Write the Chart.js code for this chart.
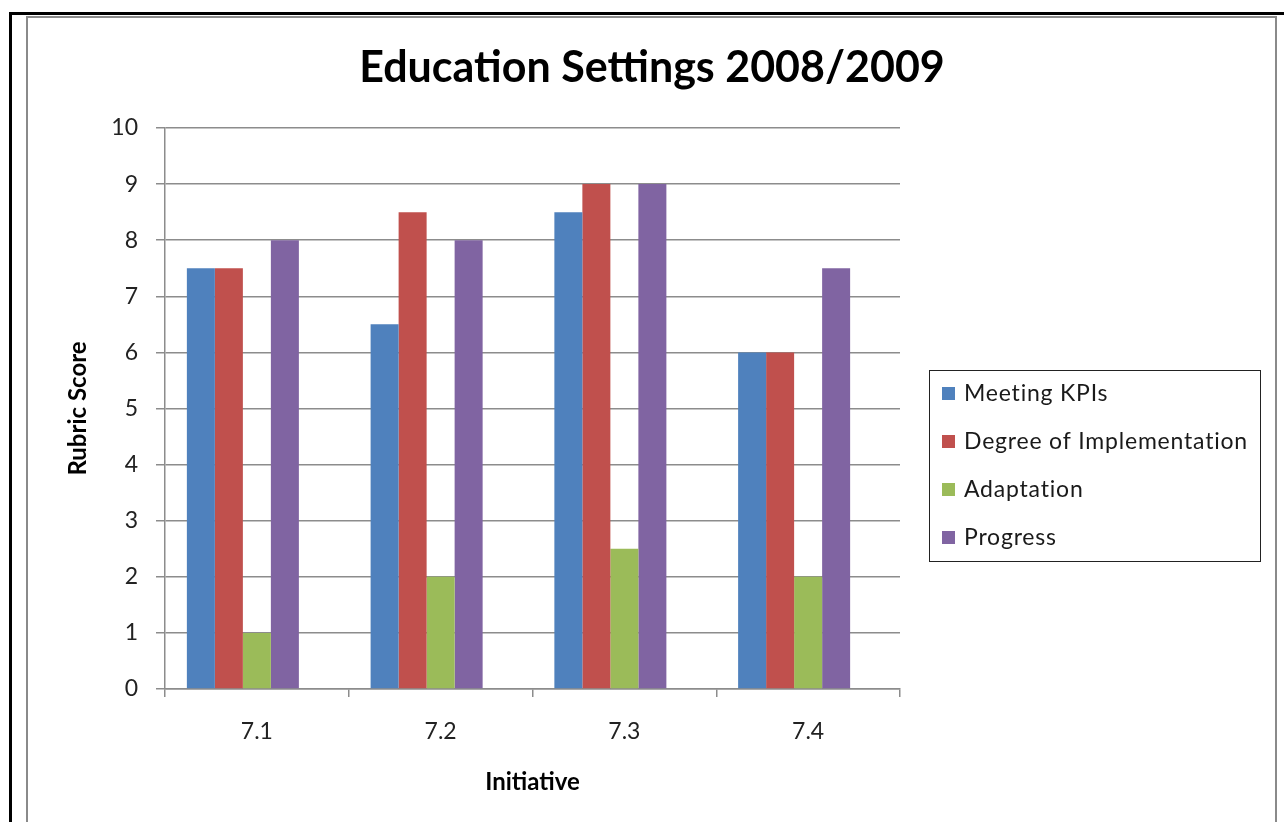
<!DOCTYPE html>
<html>
<head>
<meta charset="utf-8">
<script src="https://cdn.jsdelivr.net/npm/chart.js@4/dist/chart.umd.min.js"></script>
<style>
  html, body { margin: 0; padding: 0; background: #fff; }
  #wrap { width: 1284px; height: 822px; position: relative; }
  canvas { display: block; }
</style>
</head>
<body>
<div id="wrap"><canvas id="chart" width="1284" height="822"></canvas></div>
<script>
// Initiatives along the x axis
const categories = ['7.1', '7.2', '7.3', '7.4'];

// Rubric scores per series
const meetingKPIs = [7.5, 6.5, 8.5, 6];
const degreeOfImplementation = [7.5, 8.5, 9, 6];
const adaptation = [1, 2, 2.5, 2];
const progress = [8, 8, 9, 7.5];
// The workbook carries a fifth, empty series that still takes a bar slot
const emptySeries = [null, null, null, null];

const seriesNames = ['Meeting KPIs', 'Degree of Implementation', 'Adaptation', 'Progress', ''];
const seriesColors = ['#4F81BD', '#C0504D', '#9BBB59', '#8064A2', '#F79646'];
const seriesValues = [meetingKPIs, degreeOfImplementation, adaptation, progress, emptySeries];

// Value axis range
const yMin = 0;
const yMax = 10;
const yStep = 1;

const chartTitle = 'Education Settings 2008/2009';
const FONT = 'Lato, "Open Sans", sans-serif';

// Double frame around the whole figure
const framePlugin = {
  id: 'frame',
  beforeDraw(chart) {
    const ctx = chart.ctx;
    ctx.save();
    ctx.fillStyle = '#fff';
    ctx.fillRect(0, 0, chart.width, chart.height);
    ctx.fillStyle = '#000';
    ctx.fillRect(9, 12, chart.width - 9, 3);
    ctx.fillRect(9, 12, 3, chart.height - 12);
    ctx.strokeStyle = '#8a8a8a';
    ctx.lineWidth = 2;
    ctx.beginPath();
    ctx.moveTo(27, chart.height);
    ctx.lineTo(27, 17);
    ctx.lineTo(1276, 17);
    ctx.lineTo(1276, chart.height);
    ctx.stroke();
    ctx.restore();
  }
};

// Title centred inside the frame
const titlePlugin = {
  id: 'frameTitle',
  afterDraw(chart) {
    const ctx = chart.ctx;
    ctx.save();
    ctx.font = 'bold 43px ' + FONT;
    ctx.fillStyle = '#000';
    ctx.textAlign = 'center';
    ctx.textBaseline = 'middle';
    ctx.fillText(chartTitle, 652, 68);
    ctx.restore();
  }
};

// Boxed legend to the right of the plot
const boxedLegend = {
  id: 'boxedLegend',
  afterDraw(chart) {
    const ctx = chart.ctx;
    const box = { x: 929.5, y: 370.5, w: 331, h: 191 };
    ctx.save();
    ctx.strokeStyle = '#222';
    ctx.lineWidth = 1;
    ctx.strokeRect(box.x, box.y, box.w, box.h);
    ctx.font = '23px ' + FONT;
    ctx.letterSpacing = '0.8px';
    ctx.textBaseline = 'middle';
    ctx.textAlign = 'left';
    chart.data.datasets.filter(ds => ds.label).forEach((ds, i) => {
      const cy = 393 + i * 48;
      ctx.fillStyle = ds.backgroundColor;
      ctx.fillRect(942, cy - 6, 13, 13);
      ctx.fillStyle = '#1a1a1a';
      ctx.fillText(ds.label, 964, cy + 1);
    });
    ctx.restore();
  }
};

new Chart(document.getElementById('chart'), {
  type: 'bar',
  data: {
    labels: categories,
    datasets: seriesNames.map((name, i) => ({
      label: name,
      data: seriesValues[i],
      backgroundColor: seriesColors[i],
      borderWidth: 0,
      categoryPercentage: 0.762,
      barPercentage: 1
    }))
  },
  options: {
    responsive: false,
    devicePixelRatio: 1,
    animation: false,
    layout: { padding: { left: 27, right: 384, top: 128, bottom: 0 } },
    plugins: {
      legend: { display: false },
      tooltip: { enabled: false },
      title: { display: false }
    },
    scales: {
      x: {
        grid: {
          display: true,
          offset: true,
          drawOnChartArea: false,
          drawTicks: true,
          tickLength: 8,
          color: '#8c8c8c',
          lineWidth: 1.5
        },
        border: { color: '#8c8c8c', width: 1.5 },
        ticks: {
          color: '#222',
          font: { family: FONT, size: 23 },
          padding: 21
        },
        title: {
          display: true,
          text: 'Initiative',
          color: '#000',
          font: { family: FONT, size: 24, weight: 'bold', lineHeight: 1.2 },
          padding: { top: 0, bottom: 25 }
        },
        afterFit(scale) { scale.height = 133; }
      },
      y: {
        min: yMin,
        max: yMax,
        grid: {
          color: '#8c8c8c',
          lineWidth: 1.5,
          tickLength: 9
        },
        border: { color: '#8c8c8c', width: 1.5 },
        ticks: {
          stepSize: yStep,
          color: '#222',
          font: { family: FONT, size: 23 },
          padding: 18
        },
        title: {
          display: true,
          text: 'Rubric Score',
          color: '#000',
          font: { family: FONT, size: 24, weight: 'bold', lineHeight: 1.2 },
          padding: { top: 37, bottom: 0 }
        },
        afterFit(scale) { scale.width = 138; }
      }
    }
  },
  plugins: [framePlugin, titlePlugin, boxedLegend]
});
</script>
</body>
</html>
